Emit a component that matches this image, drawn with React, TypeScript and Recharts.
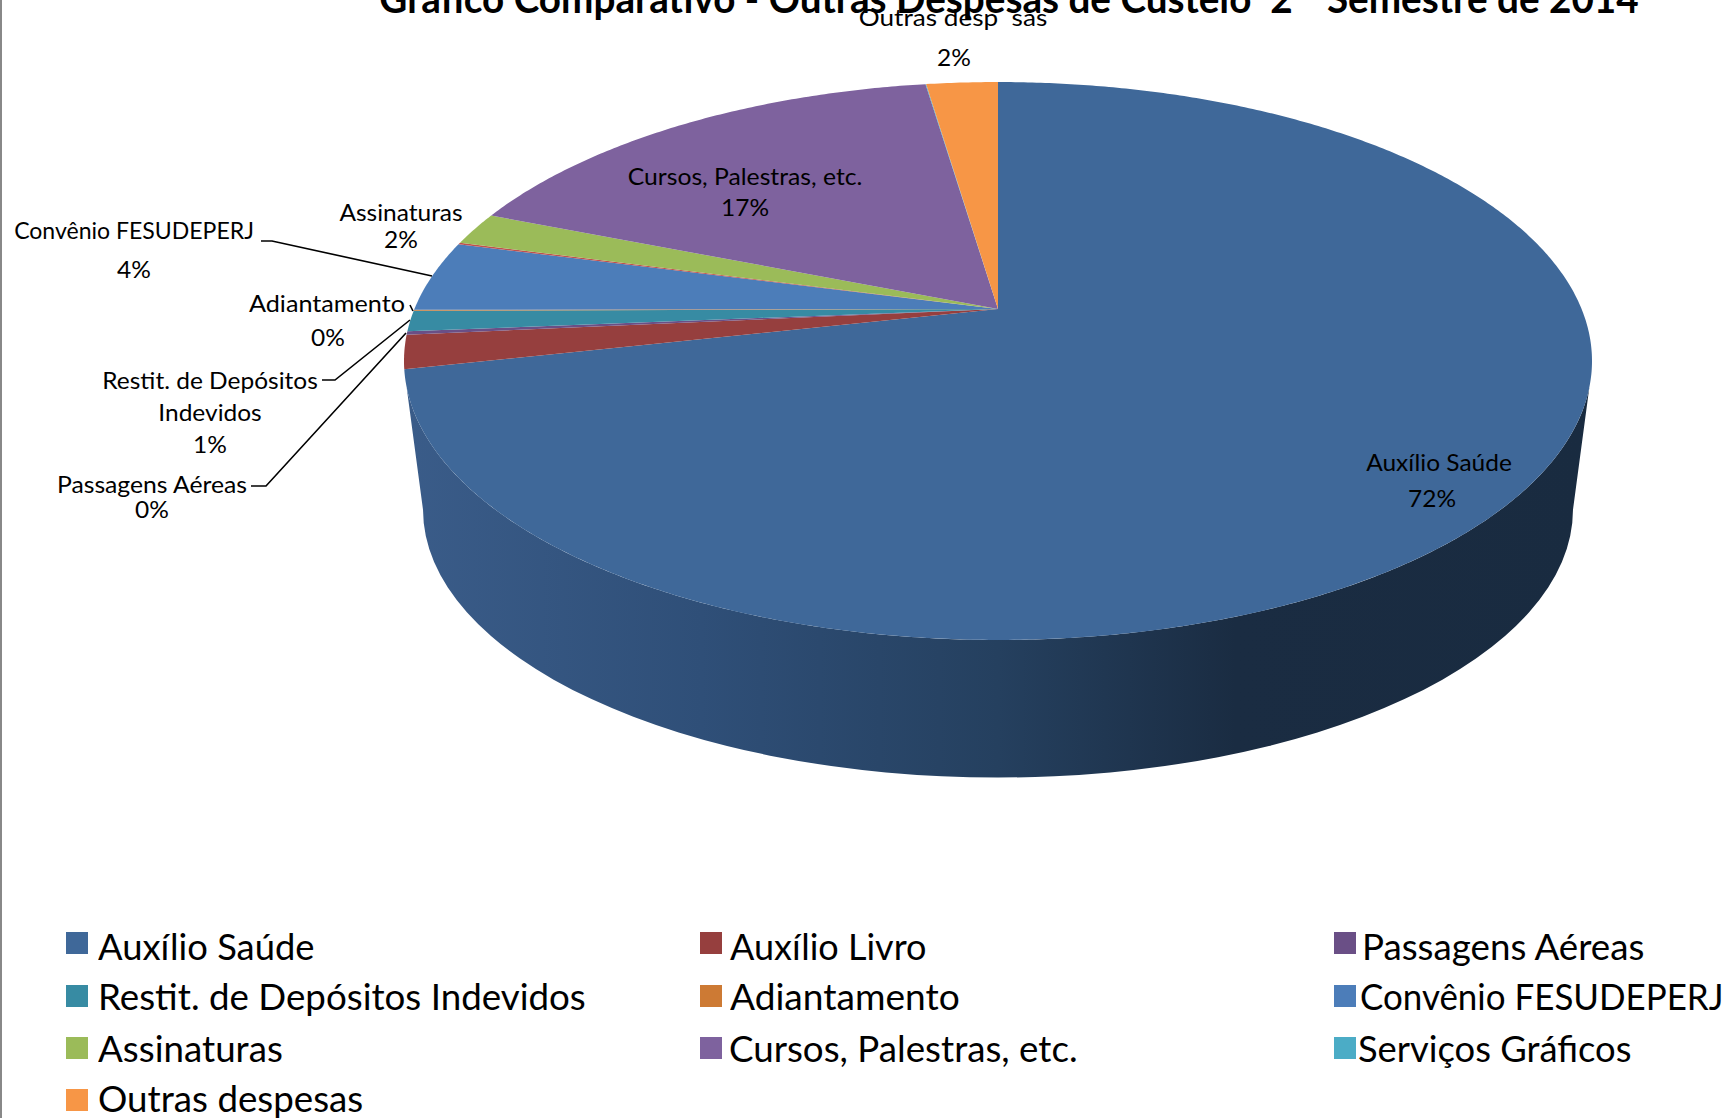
import React from "react"
import { PieChart, Pie, Legend } from "recharts"

const categories = [
  "Auxílio Saúde",
  "Auxílio Livro",
  "Passagens Aéreas",
  "Restit. de Depósitos Indevidos",
  "Adiantamento",
  "Convênio FESUDEPERJ",
  "Sem nome",
  "Assinaturas",
  "Cursos, Palestras, etc.",
  "Serviços Gráficos",
  "Outras despesas",
]
// percent of the total
const values = [71.55, 1.95, 0.2, 1.2, 0.05, 4.1, 0.1, 1.9, 16.6, 0.02, 2.33]
const colors = ["#3f6899", "#963f3e", "#6a4f86", "#378ba3", "#cd7a34", "#4c7db9", "#c0504d", "#9bbb59", "#7e629e", "#4bacc6", "#f79646"]

const data = categories.map((name, i) => ({ name, value: values[i], fill: colors[i] }))

const FONT = "Lato, 'Open Sans', sans-serif"
const LABEL_STRETCH = 1.02

// perspective of the disc: the centre of the pie is not the centre of the ellipse
const PERSP = 0.1864
const RY_RATIO = 0.4533

function project(cx: number, cy: number, r: number, deg: number) {
  const rad = (deg * Math.PI) / 180
  const u = Math.cos(rad)
  const v = -Math.sin(rad)
  const k = 1 - PERSP * v
  return {
    x: cx + (r * Math.sqrt(1 - PERSP * PERSP) * u) / k,
    y: cy + (r * RY_RATIO * v) / k,
  }
}

function arcPoints(cx: number, cy: number, r: number, from: number, to: number) {
  const steps = Math.max(2, Math.ceil(Math.abs(to - from) * 2))
  const pts = []
  for (let i = 0; i <= steps; i++) {
    const p = project(cx, cy, r, from + ((to - from) * i) / steps)
    pts.push(`${p.x.toFixed(2)} ${p.y.toFixed(2)}`)
  }
  return pts
}

function Slice3D(props: any) {
  const { cx, cy, outerRadius: r, startAngle, endAngle, fill } = props
  const top = `M${cx} ${cy}L${arcPoints(cx, cy, r, startAngle, endAngle).join("L")}Z`
  const hasFront = startAngle >= -90 && endAngle <= -90
  let wall = null
  if (hasFront) {
    const rim = arcPoints(cx, cy, r, -16, -164).join("L")
    const bx = r * 0.968
    const by = r * 0.451
    const bc = cy + r * 0.338
    wall = (
      <>
        <defs>
          <linearGradient id="wallShade" gradientUnits="userSpaceOnUse" x1={cx - r} x2={cx + r} y1={0} y2={0}>
            <stop offset="0" stopColor="#3a5c89" />
            <stop offset="0.25" stopColor="#2f4f78" />
            <stop offset="0.5" stopColor="#25405f" />
            <stop offset="0.7" stopColor="#1a2c42" />
            <stop offset="1" stopColor="#192b40" />
          </linearGradient>
        </defs>
        <path
          d={`M${rim}L${cx - bx} ${bc}A${bx} ${by} 0 0 0 ${cx + bx} ${bc}Z`}
          fill="url(#wallShade)"
        />
      </>
    )
  }
  return (
    <g>
      {wall}
      <path d={top} fill={fill} />
    </g>
  )
}

// where each data label sits, hand placed like in the original sheet
const labelLayout: Record<string, any> = {
  "Auxílio Saúde": { x: 1439, y: 471, lines: ["Auxílio Saúde"], pct: [1432, 507] },
  "Passagens Aéreas": { x: 152, y: 493, lines: ["Passagens Aéreas"], sx: 1.03, pct: [152, 518], leader: "M251 486H266L406 333" },
  "Restit. de Depósitos Indevidos": { x: 210, y: 389, lines: ["Restit. de Depósitos", "Indevidos"], gap: 32, pct: [210, 453], leader: "M322 380H335L410 320" },
  Adiantamento: { x: 327, y: 312, lines: ["Adiantamento"], sx: 1.05, pct: [328, 346], leader: "M410 305L413 311" },
  "Convênio FESUDEPERJ": { x: 134, y: 239, lines: ["Convênio FESUDEPERJ"], sx: 0.96, pct: [134, 278], leader: "M261 241H272L432 276" },
  Assinaturas: { x: 401, y: 221, lines: ["Assinaturas"], pct: [401, 248] },
  "Cursos, Palestras, etc.": { x: 745, y: 185, lines: ["Cursos, Palestras, etc."], sx: 1.03, pct: [745, 216] },
  "Outras despesas": { x: 953, y: 26, lines: ["Outras desp  sas"], sx: 1.09, pct: [954, 66] },
}

function LabelText({ x, y, sx = LABEL_STRETCH, children }: any) {
  return (
    <text
      transform={`translate(${x} ${y}) scale(${sx} 1)`}
      textAnchor="middle"
      fontFamily={FONT}
      fontSize={24}
      fill="#000"
      style={{ whiteSpace: "pre" }}
    >
      {children}
    </text>
  )
}

function renderLabel(props: any) {
  const spot = labelLayout[props.name]
  if (!spot) return null
  return (
    <g>
      {spot.leader && <path d={spot.leader} fill="none" stroke="#000" strokeWidth={1.6} />}
      {spot.lines.map((line: string, i: number) => (
        <LabelText key={line} x={spot.x} y={spot.y + i * (spot.gap || 0)} sx={spot.sx}>
          {line}
        </LabelText>
      ))}
      <LabelText x={spot.pct[0]} y={spot.pct[1]}>
        {`${Math.round(props.percent * 100)}%`}
      </LabelText>
    </g>
  )
}

// legend grid, read row by row
const legendCols = [66, 700, 1334]
const legendRows = [932, 985, 1037, 1089]
const legendTextRows = [921, 971, 1023, 1073]
const legendTextX: Record<string, number> = {
  "Cursos, Palestras, etc.": 729,
  "Convênio FESUDEPERJ": 1360,
  "Serviços Gráficos": 1358,
  "Passagens Aéreas": 1362,
}
const legendStretch: Record<string, number> = {
  "Auxílio Saúde": 1.01,
  "Restit. de Depósitos Indevidos": 1.02,
  "Adiantamento": 1.03,
  "Convênio FESUDEPERJ": 0.97,
  "Assinaturas": 1.02,
  "Cursos, Palestras, etc.": 1.02,
  "Outras despesas": 1.02,
  "Passagens Aéreas": 1.02,
  "Serviços Gráficos": 1.01,
}

function LegendGrid({ payload }: any) {
  const items = (payload || []).filter((p: any) => p.value !== "Sem nome")
  return (
    <div style={{ position: "relative", width: 1723, height: 1118 }}>
      {items.map((item: any, i: number) => {
        const left = legendCols[i % 3]
        const row = Math.floor(i / 3)
        const textX = legendTextX[item.value] ?? (i % 3 === 0 ? left + 32 : left + 30)
        return (
          <React.Fragment key={item.value}>
            <div style={{ position: "absolute", left, top: legendRows[row], width: 22, height: 22, background: item.color }} />
            <div
              style={{
                position: "absolute",
                left: textX,
                top: legendTextRows[row],
                fontFamily: FONT,
                fontSize: 36,
                lineHeight: "50px",
                color: "#000",
                whiteSpace: "nowrap",
                transform: `scaleX(${legendStretch[item.value] ?? 1})`,
                transformOrigin: "left",
              }}
            >
              {item.value}
            </div>
          </React.Fragment>
        )
      })}
    </div>
  )
}

export default function App() {
  return (
    <div style={{ position: "absolute", left: 0, top: 0, width: 1723, height: 1118, overflow: "hidden", background: "#fff" }}>
      <div style={{ position: "absolute", left: 0, top: 0, width: 2, height: 1118, background: "#888" }} />
      <PieChart width={1723} height={1118} margin={{ top: 0, right: 0, bottom: 0, left: 0 }}>
        <text
          transform="translate(1009 13) scale(0.967 1)"
          textAnchor="middle"
          fontFamily={FONT}
          fontSize={40}
          fontWeight={700}
          fill="#000"
          style={{ whiteSpace: "pre" }}
        >
          Gráfico Comparativo - Outras Despesas de Custeio  2º  Semestre de 2014
        </text>
        <Pie
          data={data}
          dataKey="value"
          nameKey="name"
          cx={998}
          cy={309}
          outerRadius={594}
          startAngle={90}
          endAngle={-270}
          stroke="none"
          shape={Slice3D}
          label={renderLabel}
          labelLine={false}
          isAnimationActive={false}
        />
        <Legend
          content={LegendGrid}
          itemSorter={null}
          wrapperStyle={{ position: "absolute", left: 0, top: 0, width: 1723, height: 1118 }}
        />
      </PieChart>
    </div>
  )
}
